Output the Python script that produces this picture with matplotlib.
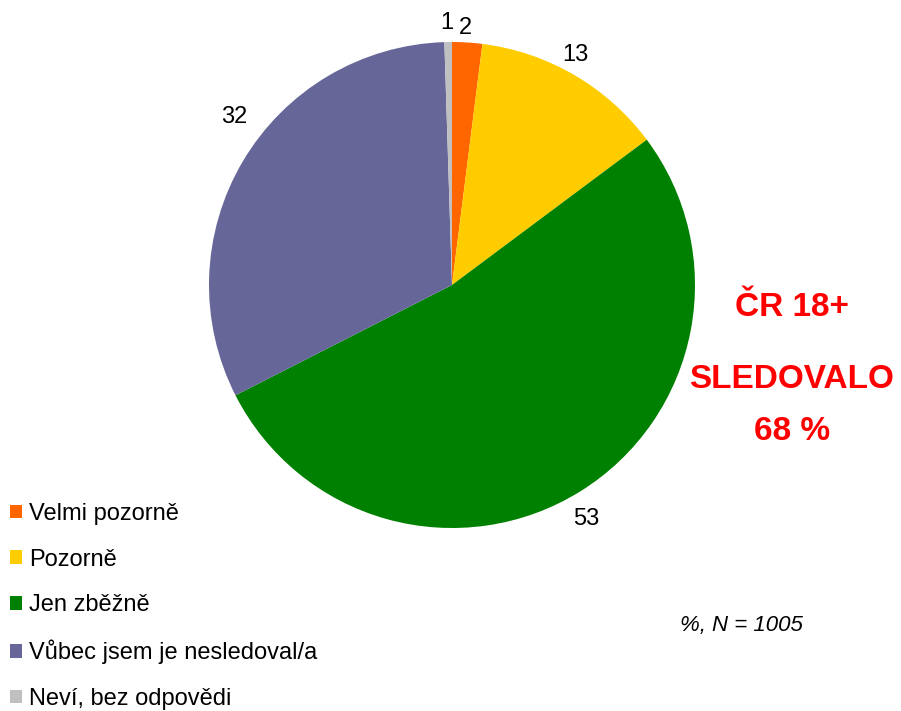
import numpy as np
import matplotlib.pyplot as plt

plt.rcParams['font.family'] = ['Liberation Sans', 'DejaVu Sans']

categories = ["Velmi pozorně", "Pozorně", "Jen zběžně",
              "Vůbec jsem je nesledoval/a", "Neví, bez odpovědi"]
values = [2.0, 12.8, 52.7, 32.0, 0.5]
value_labels = ["2", "13", "53", "32", "1"]
colors = ["#FF6600", "#FFCC00", "#008000", "#666699", "#C0C0C0"]

# label placement (radius, angle nudge in degrees) per slice
label_radius = [1.06, 1.075, 1.11, 1.13, 1.08]
label_nudge = [0.5, 2, -2, -7, 0.3]

fig = plt.figure(figsize=(9.01, 7.11), dpi=100)
W, H = 901, 711
cx, cy, r = 452, 285, 243
ax = fig.add_axes([(cx - r) / W, 1 - (cy + r) / H, 2 * r / W, 2 * r / H])

wedges, _ = ax.pie(values, colors=colors, startangle=90, counterclock=False,
                   radius=1, wedgeprops=dict(linewidth=0))
ax.set_xlim(-1, 1)
ax.set_ylim(-1, 1)
ax.axis('off')

for w, lab, rad, nd in zip(wedges, value_labels, label_radius, label_nudge):
    ang = np.deg2rad((w.theta1 + w.theta2) / 2 + nd)
    ax.text(rad * np.cos(ang), rad * np.sin(ang), lab, fontsize=17,
            ha='center', va='center', clip_on=False)

fig.legend(wedges, categories, loc='upper left',
           bbox_to_anchor=(10 / W, 1 - 503 / H), frameon=False,
           fontsize=17, handlelength=0.5, handleheight=0.5,
           handletextpad=0.3, labelspacing=1.0, borderpad=0,
           borderaxespad=0)

fig.text(792 / W, 1 - 307 / H, "ČR 18+", color="#FF0000", fontsize=24,
         fontweight='bold', ha='center', va='center')
fig.text(792 / W, 1 - 380 / H, "SLEDOVALO", color="#FF0000", fontsize=24,
         fontweight='bold', ha='center', va='center')
fig.text(792 / W, 1 - 431 / H, "68 %", color="#FF0000", fontsize=24,
         fontweight='bold', ha='center', va='center')
fig.text(741 / W, 1 - 625 / H, "%, N = 1005", fontsize=16,
         fontstyle='italic', ha='center', va='center')

fig.savefig("out.png", dpi=100)
